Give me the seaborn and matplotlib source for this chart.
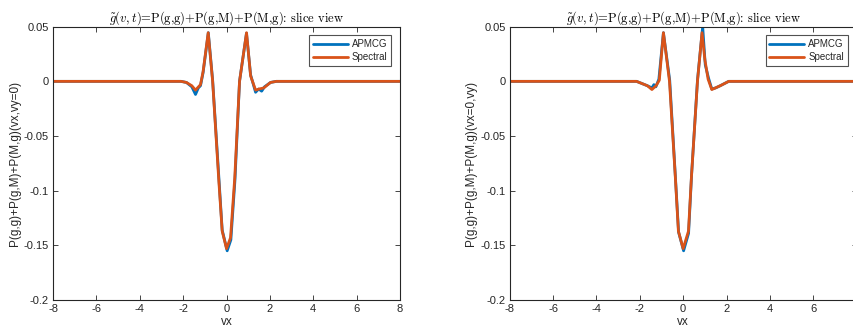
import matplotlib
matplotlib.use("Agg")
import matplotlib.pyplot as plt
import seaborn as sns
import pandas as pd

# Slice along vx (vy = 0)
vx_left_apmcg = [-8, -2.1, -1.85, -1.6, -1.43, -1.3, -1.2, -1.08, -0.84, -0.64, -0.35, -0.2,
                 0.03, 0.2, 0.39, 0.6, 0.92, 1.11, 1.34, 1.48, 1.62, 1.75, 2.03, 2.3, 8]
g_left_apmcg = [0, 0, -0.001, -0.005, -0.012, -0.006, -0.004, 0.008, 0.0445, 0.001, -0.089, -0.136,
                -0.155, -0.145, -0.09, 0.0, 0.044, 0.006, -0.010, -0.007, -0.009, -0.005, -0.001, 0, 0]
vx_left_spec = [-8, -2.1, -1.85, -1.6, -1.43, -1.2, -1.08, -0.845, -0.64, -0.355, -0.2, 0.0,
                0.185, 0.38, 0.6, 0.923, 1.11, 1.34, 1.5, 1.72, 2.03, 2.3, 8]
g_left_spec = [0, 0, -0.001, -0.004, -0.008, -0.003, 0.009, 0.0445, 0.0, -0.091, -0.137, -0.153,
               -0.143, -0.088, 0.0, 0.0445, 0.005, -0.008, -0.007, -0.006, -0.001, 0, 0]

# Slice along vy (vx = 0)
vy_right_apmcg = [-8, -2.15, -1.9, -1.65, -1.44, -1.35, -1.26, -1.12, -0.91, -0.62, -0.35, -0.21,
                  0.02, 0.25, 0.39, 0.66, 0.9, 1.02, 1.17, 1.32, 1.5, 1.71, 2.1, 8]
g_right_apmcg = [0, 0, -0.002, -0.004, -0.006, -0.003, -0.005, 0.002, 0.0445, 0.001, -0.09, -0.138,
                 -0.155, -0.139, -0.085, 0.001, 0.050, 0.015, 0.003, -0.007, -0.006, -0.004, 0, 0]
vy_right_spec = [-8, -2.15, -1.9, -1.65, -1.44, -1.25, -1.1, -0.91, -0.63, -0.36, -0.22, 0.0,
                 0.245, 0.38, 0.66, 0.87, 1.0, 1.15, 1.32, 1.71, 2.1, 8]
g_right_spec = [0, 0, -0.002, -0.004, -0.0075, -0.004, 0.001, 0.0445, 0.0, -0.088, -0.137, -0.153,
                -0.137, -0.088, 0.0, 0.0445, 0.02, 0.002, -0.0075, -0.004, 0, 0]

methods = ["APMCG", "Spectral"]
colors = {"APMCG": "#0072BD", "Spectral": "#D95319"}
xticks = [-8, -6, -4, -2, 0, 2, 4, 6, 8]
yticks = [-0.2, -0.15, -0.1, -0.05, 0, 0.05]
ytick_labels = ["-0.2", "-0.15", "-0.1", "-0.05", "0", "0.05"]
title = r"$\tilde{g}(v,t)$=P(g,g)+P(g,M)+P(M,g): slice view"


def frame(x_a, y_a, x_s, y_s):
    return pd.concat([
        pd.DataFrame({"v": x_a, "g": y_a, "method": "APMCG"}),
        pd.DataFrame({"v": x_s, "g": y_s, "method": "Spectral"}),
    ], ignore_index=True)


sns.set_theme(style="ticks")
plt.rcParams["font.family"] = ["Liberation Sans", "DejaVu Sans"]
plt.rcParams["mathtext.fontset"] = "cm"

fig = plt.figure(figsize=(8.54, 3.32), dpi=100)
ax_l = fig.add_axes([0.0621, 0.0964, 0.4063, 0.8232])
ax_r = fig.add_axes([0.5968, 0.0964, 0.4063, 0.8232])

panels = [
    (ax_l, frame(vx_left_apmcg, g_left_apmcg, vx_left_spec, g_left_spec), "P(g,g)+P(g,M)+P(M,g)(vx,vy=0)"),
    (ax_r, frame(vy_right_apmcg, g_right_apmcg, vy_right_spec, g_right_spec), "P(g,g)+P(g,M)+P(M,g)(vx=0,vy)"),
]

edge = "#262626"
for ax, df, ylab in panels:
    sns.lineplot(data=df, x="v", y="g", hue="method", hue_order=methods, palette=colors,
                 estimator=None, sort=True, linewidth=2.0, ax=ax)
    ax.set_xlim(-8, 8)
    ax.set_ylim(-0.2, 0.05)
    ax.set_xticks(xticks)
    ax.set_xticklabels([str(t) for t in xticks])
    ax.set_yticks(yticks)
    ax.set_yticklabels(ytick_labels)
    ax.tick_params(direction="in", length=3.5, width=0.6, top=True, right=True,
                   labelsize=8, colors=edge, pad=3)
    for s in ax.spines.values():
        s.set_visible(True)
        s.set_color(edge)
        s.set_linewidth(0.8)
    ax.set_xlabel("vx", fontsize=8.5, color=edge, labelpad=1)
    ax.set_ylabel(ylab, fontsize=8.5, color=edge, labelpad=2)
    ax.set_title(title, fontsize=9, color="black", pad=4, fontfamily="cmr10")
    leg = ax.legend(loc="upper right", fontsize=7, frameon=True, fancybox=False,
                    handlelength=3.6, borderaxespad=0.9, borderpad=0.4,
                    labelspacing=0.3, handletextpad=0.4)
    leg.get_frame().set_edgecolor(edge)
    leg.get_frame().set_linewidth(0.8)
    for h in leg.get_lines():
        h.set_linewidth(2.0)

fig.savefig("out.png", dpi=100)
